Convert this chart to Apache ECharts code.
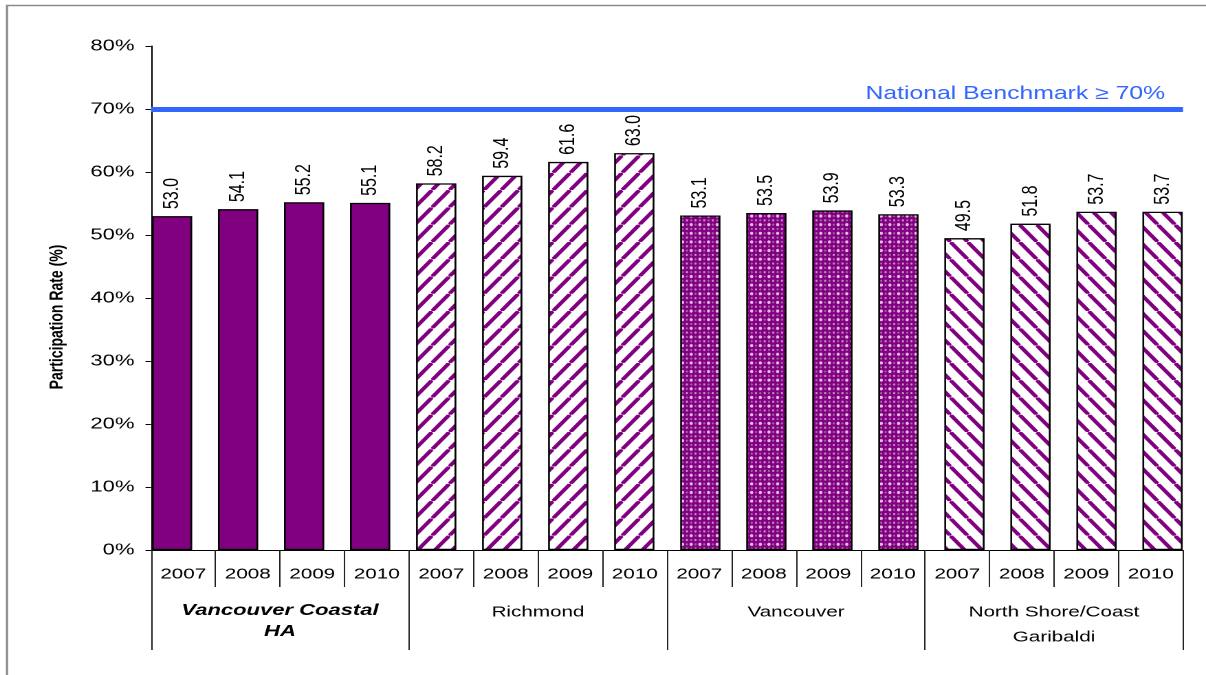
<!DOCTYPE html>
<html>
<head>
<meta charset="utf-8">
<script src="https://cdn.jsdelivr.net/npm/echarts@6/dist/echarts.min.js"></script>
<style>
  html, body { margin: 0; padding: 0; background: #fff; overflow: hidden; }
  /* the chart is laid out in a narrower box and widened to the page width */
  #chart { width: 877px; height: 675px; transform: scaleX(1.37514); transform-origin: 0 0; }
</style>
</head>
<body>
<div id="chart"></div>
<script>
// ---- data ----
const groupNames = ['Vancouver Coastal\nHA', 'Richmond', 'Vancouver', 'North Shore/Coast\nGaribaldi'];
const years = ['2007', '2008', '2009', '2010'];
const vchValues = [53.0, 54.1, 55.2, 55.1];
const richmondValues = [58.2, 59.4, 61.6, 63.0];
const vancouverValues = [53.1, 53.5, 53.9, 53.3];
const northShoreValues = [49.5, 51.8, 53.7, 53.7];
const benchmark = 70;
const yMin = 0, yMax = 80, yStep = 10;

// ---- fills ----
const PURPLE = '#800080';
const SX = 1 / 1.37514; // undo the horizontal widening inside the fill tiles
const TILE_SCALE = 0.36;

function stripeTile(forward) {
  const n = 48;
  const c = document.createElement('canvas');
  c.width = n; c.height = n;
  const g = c.getContext('2d');
  g.fillStyle = '#fff';
  g.fillRect(0, 0, n, n);
  g.strokeStyle = PURPLE;
  g.lineWidth = 10.5;
  for (let k = -1; k <= 1; k++) {
    g.beginPath();
    if (forward) { g.moveTo(k * n, n); g.lineTo(k * n + n, 0); }
    else { g.moveTo(k * n, 0); g.lineTo(k * n + n, n); }
    g.stroke();
  }
  return { image: c, repeat: 'repeat', scaleX: TILE_SCALE * SX, scaleY: TILE_SCALE };
}

function checkTile() {
  const n = 24;
  const c = document.createElement('canvas');
  c.width = n; c.height = n;
  const g = c.getContext('2d');
  g.fillStyle = PURPLE;
  g.fillRect(0, 0, n, n);
  g.fillStyle = '#e2bce2';
  [[0, 0], [n, 0], [0, n], [n, n]].forEach(([x, y]) => {
    g.beginPath(); g.arc(x, y, 4.5, 0, Math.PI * 2); g.fill();
  });
  g.fillStyle = '#b060b0';
  [[n / 2, 0], [0, n / 2], [n, n / 2], [n / 2, n]].forEach(([x, y]) => {
    g.beginPath(); g.arc(x, y, 3, 0, Math.PI * 2); g.fill();
  });
  g.fillStyle = '#c488c4';
  g.beginPath(); g.arc(n / 2, n / 2, 3.2, 0, Math.PI * 2); g.fill();
  return { image: c, repeat: 'repeat', scaleX: TILE_SCALE * SX, scaleY: TILE_SCALE };
}

const groupFills = [PURPLE, stripeTile(true), checkTile(), stripeTile(false)];
const groupValues = [vchValues, richmondValues, vancouverValues, northShoreValues];

// one bar per (group, year)
const barData = [];
const yearLabels = [];
groupValues.forEach((vals, gi) => {
  vals.forEach((v, yi) => {
    yearLabels.push(years[yi]);
    barData.push({
      value: v,
      itemStyle: { color: groupFills[gi], borderColor: '#000', borderWidth: 1.3 }
    });
  });
});
const barKeys = yearLabels.map((y, i) => i + ':' + y);

const FONT = 'Liberation Sans, Arial, sans-serif';
const BLUE = '#3366FF';

const chart = echarts.init(document.getElementById('chart'), null, { renderer: 'canvas', devicePixelRatio: 2 });

chart.setOption({
  animation: false,
  backgroundColor: '#fff',
  textStyle: { fontFamily: FONT },
  grid: [
    { left: 101.1, width: 768.3, top: 46, height: 504 },   // bars
    { left: 109.8, width: 750.5, top: 46, height: 504 }    // axes
  ],
  xAxis: [
    { gridIndex: 0, type: 'category', data: barKeys, show: false },
    {
      gridIndex: 1, type: 'category', data: yearLabels, position: 'bottom',
      axisLine: { show: true, lineStyle: { color: '#000', width: 1 } },
      axisTick: { show: true, interval: 0, length: 37, lineStyle: { color: '#222', width: 1 } },
      axisLabel: { interval: 0, margin: 17, color: '#000', fontSize: 15, fontFamily: FONT }
    },
    {
      gridIndex: 1, type: 'category', data: groupNames, position: 'bottom',
      axisLine: { show: false },
      axisTick: { show: true, interval: 0, length: 100, lineStyle: { color: '#222', width: 1 } },
      axisLabel: {
        interval: 0, margin: 50, color: '#000',
        formatter: (val, idx) => val.split('\n').map(l => (idx === 0 ? '{hb|' : '{n|') + l + '}').join('\n'),
        rich: {
          hb: { fontSize: 16, fontWeight: 'bold', fontStyle: 'italic', lineHeight: 21, fontFamily: FONT, color: '#000' },
          n: { fontSize: 15, lineHeight: 25, fontFamily: FONT, color: '#000' }
        }
      }
    }
  ],
  yAxis: [
    { gridIndex: 0, type: 'value', min: yMin, max: yMax, interval: yStep, show: false },
    {
      gridIndex: 1, type: 'value', min: yMin, max: yMax, interval: yStep,
      axisLine: { show: true, lineStyle: { color: '#000', width: 1 } },
      axisTick: { show: true, length: 4, lineStyle: { color: '#000' } },
      axisLabel: { formatter: '{value}%', color: '#000', fontSize: 16, margin: 12, fontFamily: FONT },
      splitLine: { show: false }
    }
  ],
  graphic: [
    {
      type: 'rect', silent: true, z: 0,
      shape: { x: 5.1, y: 5.5, width: 2000, height: 2000 },
      style: { fill: 'none', stroke: '#8c8c8c', lineWidth: 1.6 }
    },
    {
      type: 'text', x: 41.5, y: 317, rotation: Math.PI / 2, z: 5,
      style: {
        text: 'Participation Rate (%)', fill: '#000',
        font: 'bold 14px ' + FONT, align: 'center', verticalAlign: 'middle'
      }
    }
  ],
  series: [
    {
      type: 'bar', xAxisIndex: 0, yAxisIndex: 0, z: 2,
      barWidth: '61%',
      data: barData,
      label: {
        show: true, position: 'top', distance: 7, rotate: 90,
        align: 'left', verticalAlign: 'middle',
        formatter: p => p.value.toFixed(1),
        color: '#000', fontSize: 16, fontFamily: FONT
      }
    },
    {
      type: 'line', xAxisIndex: 1, yAxisIndex: 1, z: 10, data: [],
      markLine: {
        silent: true, symbol: 'none', z: 10,
        lineStyle: { color: BLUE, width: 5, type: 'solid' },
        label: {
          show: true, position: 'insideEndTop', distance: [13, 6],
          formatter: 'National Benchmark \u2265 ' + benchmark + '%',
          color: BLUE, fontSize: 18, fontFamily: FONT
        },
        data: [{ yAxis: benchmark }]
      }
    }
  ]
});
</script>
</body>
</html>
